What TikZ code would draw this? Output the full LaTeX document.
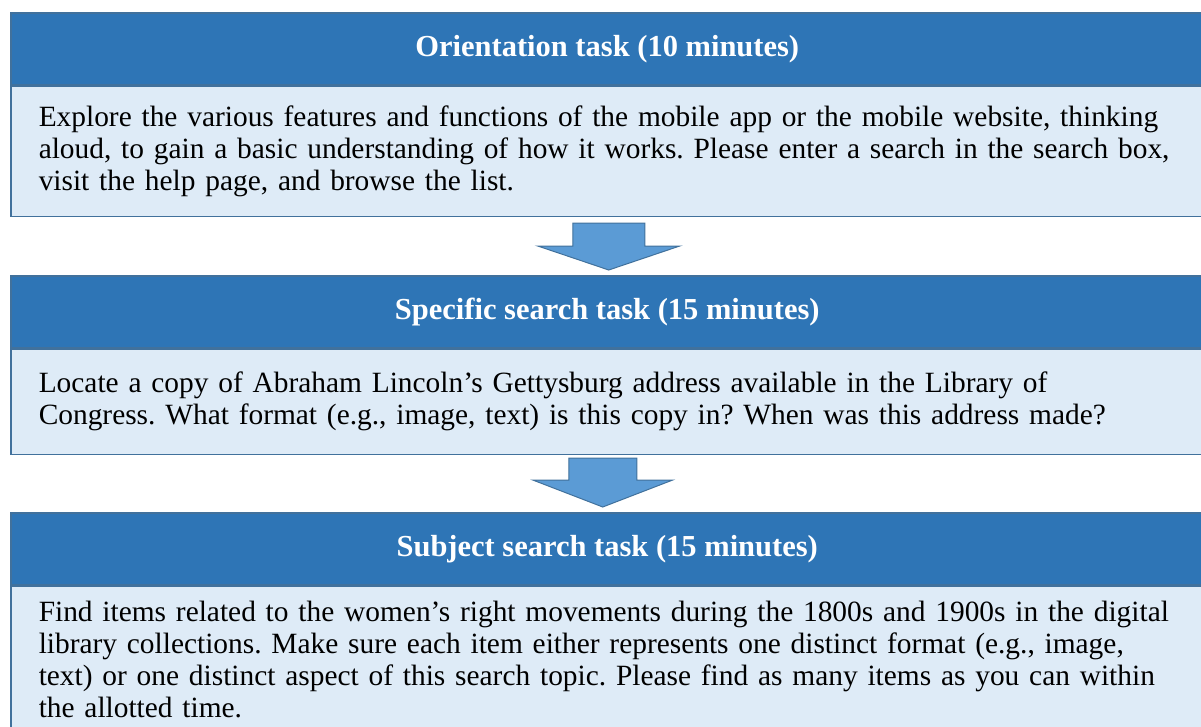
\documentclass[tikz,border=0pt]{standalone}
\usepackage{fontspec}
\setmainfont{Liberation Serif}
\usetikzlibrary{positioning,calc}
\definecolor{headblue}{RGB}{46,117,182}
\definecolor{bodyblue}{RGB}{222,235,247}
\definecolor{edgeblue}{RGB}{65,113,156}
\definecolor{arrowblue}{RGB}{91,155,213}
\frenchspacing

\begin{document}
\begin{tikzpicture}[x=1pt,y=-1pt,inner sep=0pt,
  taskhead/.style={draw=edgeblue,line width=1.5pt,fill=headblue,text=white,
    minimum width=1193pt,minimum height=72pt,font=\fontsize{30.5}{34}\selectfont\bfseries},
  taskbody/.style={draw=edgeblue,line width=1.5pt,fill=bodyblue,text width=1137pt,
    inner xsep=28pt,align=left,font=\fontsize{29.4}{32}\selectfont},
  blockarrow/.style={draw=edgeblue,line width=1pt,fill=arrowblue,line join=miter}]
\useasboundingbox (0,0) rectangle (1201,726);
% orientation
\node[taskhead,anchor=north west] (h1) at (10,12) {Orientation task (10 minutes)};
\node[taskbody,minimum height=130pt,below=0pt of h1] (b1) {Explore the various features and functions of the mobile app or the mobile website, thinking\\
aloud, to gain a basic understanding of how it works. Please enter a search in the search box,\\
visit the help page, and browse the list.};
% specific search
\node[taskhead,anchor=north west] (h2) at (10,275) {Specific search task (15 minutes)};
\node[taskbody,minimum height=105pt,below=0pt of h2] (b2) {Locate a copy of Abraham Lincoln’s Gettysburg address available in the Library of\\
Congress. What format (e.g., image, text) is this copy in? When was this address made?};
% subject search
\node[taskhead,anchor=north west] (h3) at (10,512) {Subject search task (15 minutes)};
\node[taskbody,minimum height=146pt,below=0pt of h3] (b3) {Find items related to the women’s right movements during the 1800s and 1900s in the digital\\
library collections. Make sure each item either represents one distinct format (e.g., image,\\
text) or one distinct aspect of this search topic. Please find as many items as you can within\\
the allotted time.};
% arrows
\coordinate (a1t) at ($(b1.south)+(1.5,6)$);
\coordinate (a1b) at ($(h2.north)+(1.5,-5)$);
\draw[blockarrow] ($(a1t)+(-36,0)$) -- ++(72,0) -- ++(0,23) -- ++(35,0) -- (a1b)
  -- ($(a1t)+(-71,23)$) -- ++(35,0) -- cycle;
\coordinate (a2t) at ($(b2.south)+(-4.5,3)$);
\coordinate (a2b) at ($(h3.north)+(-4.5,-5)$);
\draw[blockarrow] ($(a2t)+(-34,0)$) -- ++(68,0) -- ++(0,22) -- ++(36,0) -- (a2b)
  -- ($(a2t)+(-70,22)$) -- ++(36,0) -- cycle;
\end{tikzpicture}
\end{document}
